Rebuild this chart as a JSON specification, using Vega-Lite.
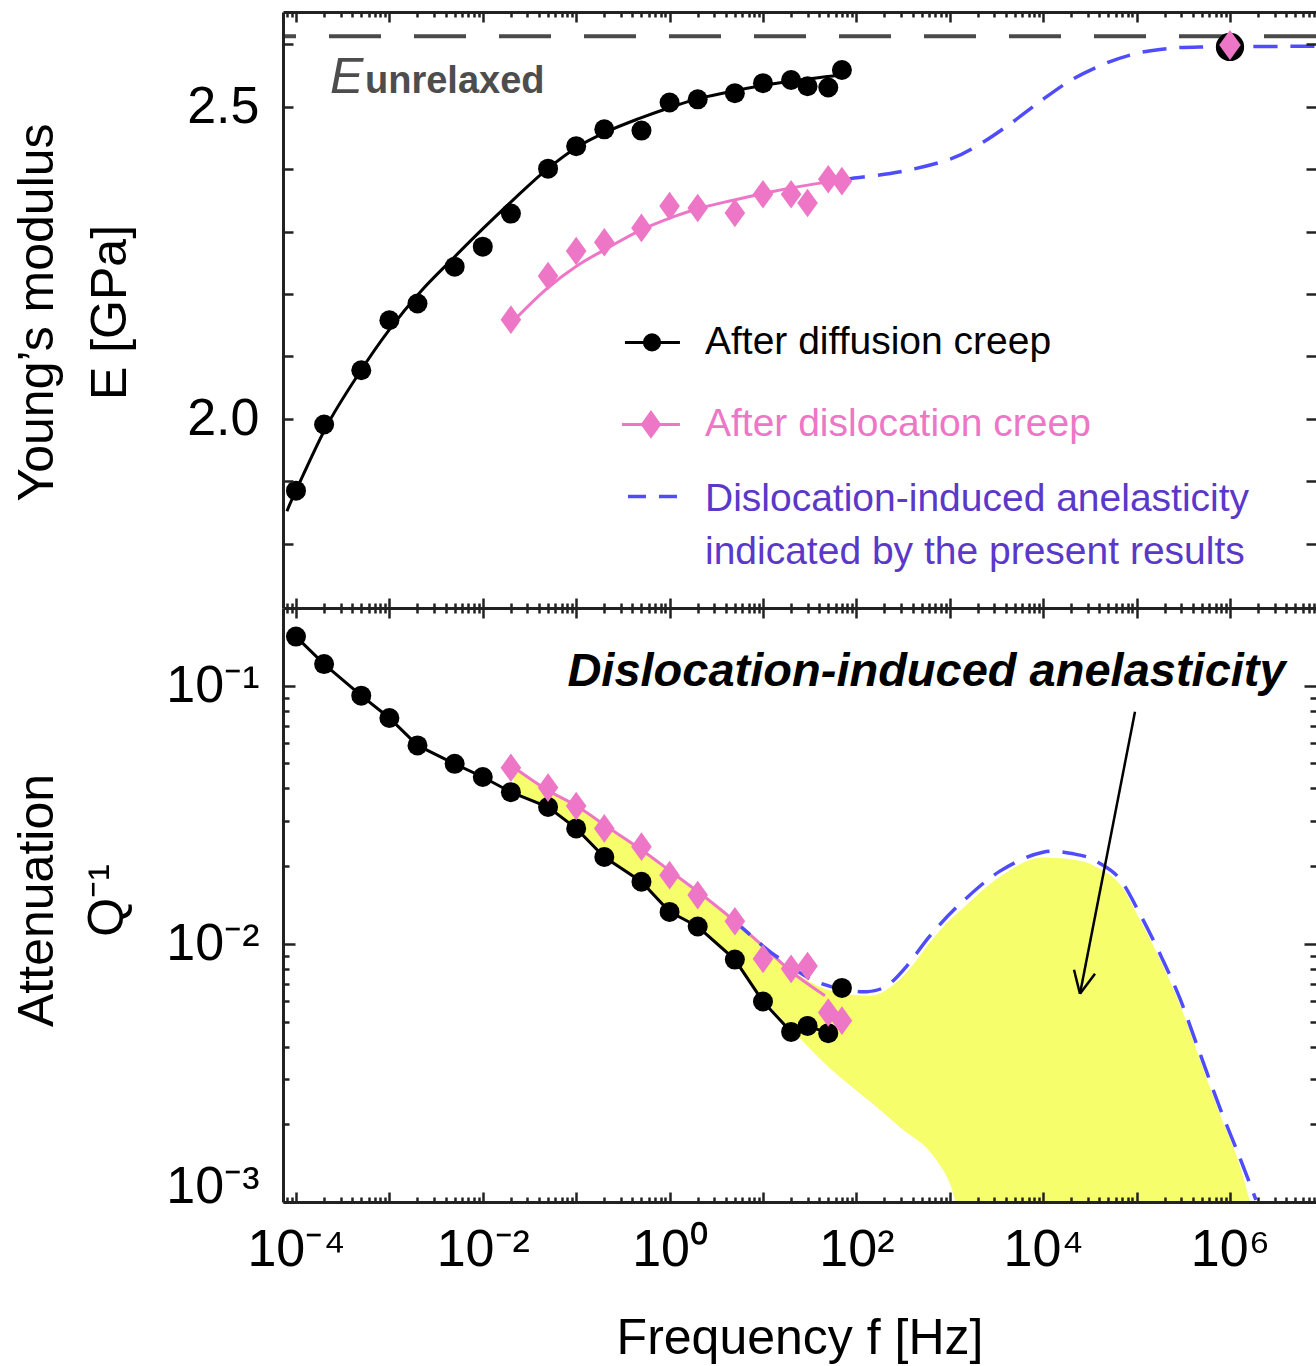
{
"$schema": "https://vega.github.io/schema/vega-lite/v6.json",
"width": 1033, "height": 1190,
"autosize": {"type": "none"},
"padding": {"left": 283, "top": 12, "right": 0, "bottom": 164},
"background": "white",
"config": {"view": {"stroke": null}, "font": "Liberation Sans",
  "axis": {"grid": false, "domainColor": "#222222", "domainWidth": 3, "tickColor": "#222222", "tickWidth": 2.5, "labelColor": "#000000", "titleColor": "#000000", "labelFont": "Liberation Sans", "titleFont": "Liberation Sans", "titleFontWeight": "normal", "labelFontSize": 52, "titleFontSize": 50, "labelFlush": false, "labelOverlap": false}},
"datasets": {
 "bE": [{"f":0.0001,"E":1.885},{"f":0.0002,"E":1.991},{"f":0.0005,"E":2.078},{"f":0.001,"E":2.158},{"f":0.002,"E":2.185},{"f":0.005,"E":2.244},{"f":0.01,"E":2.276},{"f":0.02,"E":2.329},{"f":0.05,"E":2.401},{"f":0.1,"E":2.437},{"f":0.2,"E":2.464},{"f":0.5,"E":2.462},{"f":1,"E":2.507},{"f":2,"E":2.512},{"f":5,"E":2.522},{"f":10,"E":2.538},{"f":20,"E":2.543},{"f":30,"E":2.533},{"f":50,"E":2.531},{"f":70,"E":2.559}],
 "pE": [{"f":0.02,"E":2.159},{"f":0.05,"E":2.229},{"f":0.1,"E":2.269},{"f":0.2,"E":2.283},{"f":0.5,"E":2.306},{"f":1,"E":2.341},{"f":2,"E":2.338},{"f":5,"E":2.330},{"f":10,"E":2.360},{"f":20,"E":2.360},{"f":30,"E":2.346},{"f":50,"E":2.384},{"f":70,"E":2.381}],
 "bEfit": [{"f":0.00008,"E":1.852},{"f":0.0001,"E":1.885},{"f":0.000214,"E":1.989},{"f":0.000468,"E":2.072},{"f":0.001,"E":2.143},{"f":0.00219,"E":2.205},{"f":0.00479,"E":2.257},{"f":0.01023,"E":2.306},{"f":0.02188,"E":2.353},{"f":0.04786,"E":2.399},{"f":0.1012,"E":2.435},{"f":0.2188,"E":2.461},{"f":0.4677,"E":2.481},{"f":1.109,"E":2.501},{"f":2.138,"E":2.514},{"f":4.677,"E":2.525},{"f":10.72,"E":2.535},{"f":21.38,"E":2.542},{"f":69.18,"E":2.551}],
 "pEfit": [{"f":0.02188,"E":2.159},{"f":0.04786,"E":2.208},{"f":0.1012,"E":2.245},{"f":0.2188,"E":2.274},{"f":0.4677,"E":2.301},{"f":1.109,"E":2.324},{"f":2.138,"E":2.338},{"f":4.677,"E":2.350},{"f":10.72,"E":2.362},{"f":21.38,"E":2.371},{"f":69.18,"E":2.383}],
 "blueE": [{"f":69.18,"E":2.383},{"f":85.1,"E":2.385},{"f":295.1,"E":2.396},{"f":1000,"E":2.416},{"f":2089,"E":2.440},{"f":4365,"E":2.472},{"f":9333,"E":2.509},{"f":19498,"E":2.542},{"f":40738,"E":2.566},{"f":85114,"E":2.583},{"f":177828,"E":2.592},{"f":478630,"E":2.596},{"f":8317638,"E":2.597}],
 "hf": [{"f":1000000,"E":2.596,"Ep":2.599}],
 "Eu": [{"E":2.613}],
 "legBlack": [{"f":0.3327,"E":2.1226},{"f":1.291,"E":2.1226}],
 "legPink": [{"f":0.309,"E":1.9912},{"f":1.291,"E":1.9912}],
 "legBlue": [{"f":0.3586,"E":1.8758},{"f":1.2,"E":1.8758}],
 "legCirc": [{"f":0.6486,"E":2.1226}],
 "legDia": [{"f":0.632,"E":1.9912}],
 "legText": [{"f":2.393,"E":2.1226,"t":"After diffusion creep","c":"#000000"},{"f":2.393,"E":1.9912,"t":"After dislocation creep","c":"#EE76C6"},{"f":2.393,"E":1.871,"t":"Dislocation-induced anelasticity","c":"#5A38C9"},{"f":2.393,"E":1.786,"t":"indicated by the present results","c":"#5A38C9"}],
 "labE": [{"f":0.0002312,"E":2.523,"t":"E"}],
 "labU": [{"f":0.000548,"E":2.5217,"t":"unrelaxed"}],
 "bQ": [{"f":0.0001,"Q":0.155},{"f":0.0002,"Q":0.1213},{"f":0.0005,"Q":0.0915},{"f":0.001,"Q":0.0750},{"f":0.002,"Q":0.0587},{"f":0.005,"Q":0.0498},{"f":0.01,"Q":0.0443},{"f":0.02,"Q":0.0387},{"f":0.05,"Q":0.0339},{"f":0.1,"Q":0.0280},{"f":0.2,"Q":0.0217},{"f":0.5,"Q":0.0174},{"f":1,"Q":0.0133},{"f":2,"Q":0.01167},{"f":5,"Q":0.00869},{"f":10,"Q":0.00598},{"f":20,"Q":0.00456},{"f":30,"Q":0.00481},{"f":50,"Q":0.00451},{"f":70,"Q":0.00675}],
 "pQ": [{"f":0.02,"Q":0.0481},{"f":0.05,"Q":0.0403},{"f":0.1,"Q":0.0342},{"f":0.2,"Q":0.0280},{"f":0.5,"Q":0.0238},{"f":1,"Q":0.01846},{"f":2,"Q":0.01545},{"f":5,"Q":0.01224},{"f":10,"Q":0.00875},{"f":20,"Q":0.0080},{"f":30,"Q":0.0082},{"f":50,"Q":0.00542},{"f":70,"Q":0.00504}],
 "pQfit": [{"f":0.02158,"Q":0.0482},{"f":0.04753,"Q":0.0397},{"f":0.1021,"Q":0.0341},{"f":0.2188,"Q":0.0283},{"f":0.4699,"Q":0.0235},{"f":1.086,"Q":0.0188},{"f":2.168,"Q":0.0156},{"f":4.656,"Q":0.0125},{"f":10.77,"Q":0.00957},{"f":21.48,"Q":0.00766},{"f":46.13,"Q":0.0063}],
 "blueQ": [{"f":4.656,"Q":0.0125},{"f":10.72,"Q":0.0096},{"f":15.21,"Q":0.00875},{"f":31.84,"Q":0.00733},{"f":66.68,"Q":0.0067},{"f":129.7,"Q":0.00653},{"f":212.8,"Q":0.00689},{"f":348.3,"Q":0.00822},{"f":613.8,"Q":0.01074},{"f":1285,"Q":0.01426},{"f":3443,"Q":0.01913},{"f":9954,"Q":0.02265},{"f":24774,"Q":0.02206},{"f":40551,"Q":0.0205},{"f":66374,"Q":0.01781},{"f":108643,"Q":0.01306},{"f":177828,"Q":0.00915},{"f":291743,"Q":0.00613},{"f":477529,"Q":0.00376},{"f":781628,"Q":0.00231},{"f":1279381,"Q":0.00148},{"f":1896706,"Q":0.00102}],
 "yellow": [{"f":0.02158,"t":0.0482,"b":0.0387},{"f":0.04753,"t":0.0397,"b":0.0339},{"f":0.1021,"t":0.0341,"b":0.0280},{"f":0.2188,"t":0.0283,"b":0.0217},{"f":0.4699,"t":0.0235,"b":0.0174},{"f":1.086,"t":0.0188,"b":0.0133},{"f":2.168,"t":0.0156,"b":0.01167},{"f":4.656,"t":0.0125,"b":0.00869},{"f":10.77,"t":0.00957,"b":0.00598},{"f":21.48,"t":0.0078,"b":0.00456},{"f":52.1,"t":0.0066,"b":0.0033},{"f":140,"t":0.0063,"b":0.00245},{"f":293,"t":0.0073,"b":0.00195},{"f":695,"t":0.0107,"b":0.00148},{"f":1005,"t":0.0124,"b":0.00118},{"f":1194,"t":0.0131,"b":0.001},{"f":3443,"t":0.0182,"b":0.001},{"f":9954,"t":0.0216,"b":0.001},{"f":24774,"t":0.021,"b":0.001},{"f":40551,"t":0.0195,"b":0.001},{"f":66374,"t":0.017,"b":0.001},{"f":108643,"t":0.0124,"b":0.001},{"f":177828,"t":0.0087,"b":0.001},{"f":291743,"t":0.0058,"b":0.001},{"f":477529,"t":0.00355,"b":0.001},{"f":781628,"t":0.00218,"b":0.001},{"f":1279381,"t":0.00138,"b":0.001},{"f":1637000,"t":0.001,"b":0.001}],
 "annot": [{"f":563.6,"Q":0.1132,"t":"Dislocation-induced anelasticity"}],
 "arrow": [{"f":96161,"Q":0.0793,"s":"a","o":0},{"f":24774,"Q":0.00641,"s":"a","o":1},{"f":35892,"Q":0.00766,"s":"b","o":0},{"f":24774,"Q":0.00641,"s":"b","o":1},{"f":21380,"Q":0.00794,"s":"c","o":0},{"f":24774,"Q":0.00641,"s":"c","o":1}]
},
"resolve": {"scale": {"y": "independent"}, "axis": {"x": "independent", "y": "independent"}},
"layer": [
 {"data": {"name": "yellow"}, "mark": {"type": "area", "color": "#F6FE6C", "interpolate": "monotone"},
  "encoding": {
   "x": {"field": "f", "type": "quantitative", "scale": {"type": "log", "domain": [7.261e-5, 8.337e6], "nice": false},
     "axis": {"orient": "bottom", "values": [0.0001, 0.01, 1, 100, 10000, 1000000], "ticks": false, "domain": true, "labelExpr": "datum.value < 0.001 ? '10\u207b\u2074' : datum.value < 0.1 ? '10\u207b\u00b2' : datum.value < 10 ? '10\u2070' : datum.value < 1000 ? '10\u00b2' : datum.value < 100000 ? '10\u2074' : '10\u2076'", "labelPadding": 22, "title": "Frequency f [Hz]", "titleY": 151, "titleBaseline": "alphabetic", "zindex": 1}},
   "y": {"field": "t", "type": "quantitative", "scale": {"type": "log", "domain": [0.001, 0.2], "range": [1190, 596], "nice": false},
     "axis": {"orient": "left", "values": [0.001, 0.01, 0.1], "ticks": false, "domain": true, "labelExpr": "datum.value < 0.005 ? '10\u207b\u00b3' : datum.value < 0.05 ? '10\u207b\u00b2' : '10\u207b\u00b9'", "labelPadding": 24, "labelBaseline": {"condition": {"test": "datum.value < 0.002", "value": "alphabetic"}, "value": "middle"}, "title": ["Attenuation", "Q\u207b\u00b9"], "titleAngle": -90, "titleX": -231, "titleY": 888, "titleAlign": "center", "titleBaseline": "alphabetic", "titleLineHeight": 70, "zindex": 1}},
   "y2": {"field": "b"}
  }},
 {"data": {"name": "Eu"}, "mark": {"type": "rule", "color": "#4a4a4a", "strokeWidth": 4, "strokeDash": [52, 33]},
  "encoding": {
   "y": {"field": "E", "type": "quantitative", "scale": {"type": "linear", "domain": [1.697, 2.652], "range": [596, 0], "zero": false, "nice": false},
     "axis": {"orient": "left", "values": [2.0, 2.5], "format": ".1f", "ticks": false, "domain": true, "labelPadding": 24, "title": ["Young\u2019s modulus", "E [GPa]"], "titleAngle": -90, "titleX": -231, "titleY": 300, "titleAlign": "center", "titleBaseline": "alphabetic", "titleLineHeight": 73, "zindex": 1}}
  }},
 {"data": {"name": "bEfit"}, "mark": {"type": "line", "color": "#000000", "strokeWidth": 3, "interpolate": "cardinal"},
  "encoding": {
   "x": {"field": "f", "type": "quantitative", "scale": {"type": "log", "domain": [7.261e-5, 8.337e6], "nice": false},
     "axis": {"orient": "bottom", "offset": -1190, "values": [0.0001,0.001,0.01,0.1,1,10,100,1000,10000,100000,1000000], "labels": false, "domain": true, "tickSize": 10, "title": null, "zindex": 1}},
   "y": {"field": "E", "type": "quantitative", "scale": {"type": "linear", "domain": [1.697, 2.652], "range": [596, 0], "zero": false, "nice": false},
     "axis": {"orient": "right", "offset": -1033, "values": [1.8,1.9,2.0,2.1,2.2,2.3,2.4,2.5,2.6], "labels": false, "domain": false, "tickSize": 10, "title": null, "zindex": 1}}
  }},
 {"data": {"name": "pEfit"}, "mark": {"type": "line", "color": "#EE76C6", "strokeWidth": 3, "interpolate": "cardinal"},
  "encoding": {
   "x": {"field": "f", "type": "quantitative", "scale": {"type": "log", "domain": [7.261e-5, 8.337e6], "nice": false},
     "axis": {"orient": "bottom", "offset": -1190, "values": [0.00008,0.00009,0.0002,0.0003,0.0004,0.0005,0.0006,0.0007,0.0008,0.0009,0.002,0.003,0.004,0.005,0.006,0.007,0.008,0.009,0.02,0.03,0.04,0.05,0.06,0.07,0.08,0.09,0.2,0.3,0.4,0.5,0.6,0.7,0.8,0.9,2,3,4,5,6,7,8,9,20,30,40,50,60,70,80,90,200,300,400,500,600,700,800,900,2000,3000,4000,5000,6000,7000,8000,9000,20000,30000,40000,50000,60000,70000,80000,90000,200000,300000,400000,500000,600000,700000,800000,900000,2000000,3000000,4000000,5000000,6000000,7000000,8000000], "labels": false, "domain": false, "tickSize": 5, "title": null, "zindex": 1}},
   "y": {"field": "E", "type": "quantitative", "scale": {"type": "linear", "domain": [1.697, 2.652], "range": [596, 0], "zero": false, "nice": false},
     "axis": {"orient": "left", "offset": -1033, "values": [1.8,1.9,2.0,2.1,2.2,2.3,2.4,2.5,2.6], "labels": false, "domain": false, "tickSize": 10, "title": null, "zindex": 1}}
  }},
 {"data": {"name": "blueE"}, "mark": {"type": "line", "color": "#4F4DFB", "strokeWidth": 3.5, "strokeDash": [24, 13], "interpolate": "cardinal"},
  "encoding": {
   "x": {"field": "f", "type": "quantitative", "scale": {"type": "log", "domain": [7.261e-5, 8.337e6], "nice": false}, "axis": null},
   "y": {"field": "E", "type": "quantitative", "scale": {"type": "linear", "domain": [1.697, 2.652], "range": [596, 0], "zero": false, "nice": false}, "axis": null}
  }},
 {"data": {"name": "bE"}, "mark": {"type": "point", "shape": "circle", "filled": true, "color": "#000000", "opacity": 1, "size": 400},
  "encoding": {
   "x": {"field": "f", "type": "quantitative", "scale": {"type": "log", "domain": [7.261e-5, 8.337e6], "nice": false}, "axis": null},
   "y": {"field": "E", "type": "quantitative", "scale": {"type": "linear", "domain": [1.697, 2.652], "range": [596, 0], "zero": false, "nice": false}, "axis": null}
  }},
 {"data": {"name": "pE"}, "mark": {"type": "point", "shape": "M0,-1L0.72,0L0,1L-0.72,0Z", "filled": true, "color": "#EE76C6", "opacity": 1, "size": 820},
  "encoding": {
   "x": {"field": "f", "type": "quantitative", "scale": {"type": "log", "domain": [7.261e-5, 8.337e6], "nice": false}, "axis": null},
   "y": {"field": "E", "type": "quantitative", "scale": {"type": "linear", "domain": [1.697, 2.652], "range": [596, 0], "zero": false, "nice": false}, "axis": null}
  }},
 {"data": {"name": "hf"}, "mark": {"type": "point", "shape": "circle", "filled": true, "color": "#000000", "opacity": 1, "size": 800},
  "encoding": {
   "x": {"field": "f", "type": "quantitative", "scale": {"type": "log", "domain": [7.261e-5, 8.337e6], "nice": false}, "axis": null},
   "y": {"field": "E", "type": "quantitative", "scale": {"type": "linear", "domain": [1.697, 2.652], "range": [596, 0], "zero": false, "nice": false}, "axis": null}
  }},
 {"data": {"name": "hf"}, "mark": {"type": "point", "shape": "M0,-1L0.72,0L0,1L-0.72,0Z", "filled": true, "color": "#EE76C6", "opacity": 1, "size": 900},
  "encoding": {
   "x": {"field": "f", "type": "quantitative", "scale": {"type": "log", "domain": [7.261e-5, 8.337e6], "nice": false}, "axis": null},
   "y": {"field": "Ep", "type": "quantitative", "scale": {"type": "linear", "domain": [1.697, 2.652], "range": [596, 0], "zero": false, "nice": false}, "axis": null}
  }},
 {"data": {"name": "legBlack"}, "mark": {"type": "line", "color": "#000000", "strokeWidth": 3},
  "encoding": {
   "x": {"field": "f", "type": "quantitative", "scale": {"type": "log", "domain": [7.261e-5, 8.337e6], "nice": false}, "axis": null},
   "y": {"field": "E", "type": "quantitative", "scale": {"type": "linear", "domain": [1.697, 2.652], "range": [596, 0], "zero": false, "nice": false}, "axis": null}
  }},
 {"data": {"name": "legPink"}, "mark": {"type": "line", "color": "#EE76C6", "strokeWidth": 3},
  "encoding": {
   "x": {"field": "f", "type": "quantitative", "scale": {"type": "log", "domain": [7.261e-5, 8.337e6], "nice": false}, "axis": null},
   "y": {"field": "E", "type": "quantitative", "scale": {"type": "linear", "domain": [1.697, 2.652], "range": [596, 0], "zero": false, "nice": false}, "axis": null}
  }},
 {"data": {"name": "legBlue"}, "mark": {"type": "line", "color": "#4F4DFB", "strokeWidth": 3.5, "strokeDash": [18, 13]},
  "encoding": {
   "x": {"field": "f", "type": "quantitative", "scale": {"type": "log", "domain": [7.261e-5, 8.337e6], "nice": false}, "axis": null},
   "y": {"field": "E", "type": "quantitative", "scale": {"type": "linear", "domain": [1.697, 2.652], "range": [596, 0], "zero": false, "nice": false}, "axis": null}
  }},
 {"data": {"name": "legCirc"}, "mark": {"type": "point", "shape": "circle", "filled": true, "color": "#000000", "opacity": 1, "size": 330},
  "encoding": {
   "x": {"field": "f", "type": "quantitative", "scale": {"type": "log", "domain": [7.261e-5, 8.337e6], "nice": false}, "axis": null},
   "y": {"field": "E", "type": "quantitative", "scale": {"type": "linear", "domain": [1.697, 2.652], "range": [596, 0], "zero": false, "nice": false}, "axis": null}
  }},
 {"data": {"name": "legDia"}, "mark": {"type": "point", "shape": "M0,-1L0.72,0L0,1L-0.72,0Z", "filled": true, "color": "#EE76C6", "opacity": 1, "size": 820},
  "encoding": {
   "x": {"field": "f", "type": "quantitative", "scale": {"type": "log", "domain": [7.261e-5, 8.337e6], "nice": false}, "axis": null},
   "y": {"field": "E", "type": "quantitative", "scale": {"type": "linear", "domain": [1.697, 2.652], "range": [596, 0], "zero": false, "nice": false}, "axis": null}
  }},
 {"data": {"name": "legText"}, "mark": {"type": "text", "font": "Liberation Sans", "fontSize": 39, "align": "left", "baseline": "middle"},
  "encoding": {
   "x": {"field": "f", "type": "quantitative", "scale": {"type": "log", "domain": [7.261e-5, 8.337e6], "nice": false}, "axis": null},
   "y": {"field": "E", "type": "quantitative", "scale": {"type": "linear", "domain": [1.697, 2.652], "range": [596, 0], "zero": false, "nice": false}, "axis": null},
   "text": {"field": "t"},
   "color": {"field": "c", "type": "nominal", "scale": null}
  }},
 {"data": {"name": "labE"}, "mark": {"type": "text", "font": "Liberation Sans", "fontSize": 50, "fontStyle": "italic", "align": "left", "baseline": "alphabetic", "color": "#4d4d4d"},
  "encoding": {
   "x": {"field": "f", "type": "quantitative", "scale": {"type": "log", "domain": [7.261e-5, 8.337e6], "nice": false}, "axis": null},
   "y": {"field": "E", "type": "quantitative", "scale": {"type": "linear", "domain": [1.697, 2.652], "range": [596, 0], "zero": false, "nice": false}, "axis": null},
   "text": {"field": "t"}
  }},
 {"data": {"name": "labU"}, "mark": {"type": "text", "font": "Liberation Sans", "fontSize": 38, "fontWeight": "bold", "align": "left", "baseline": "alphabetic", "color": "#4d4d4d"},
  "encoding": {
   "x": {"field": "f", "type": "quantitative", "scale": {"type": "log", "domain": [7.261e-5, 8.337e6], "nice": false}, "axis": null},
   "y": {"field": "E", "type": "quantitative", "scale": {"type": "linear", "domain": [1.697, 2.652], "range": [596, 0], "zero": false, "nice": false}, "axis": null},
   "text": {"field": "t"}
  }},
 {"data": {"name": "bQ"}, "transform": [{"filter": "datum.f < 60"}], "mark": {"type": "line", "color": "#000000", "strokeWidth": 3},
  "encoding": {
   "x": {"field": "f", "type": "quantitative", "scale": {"type": "log", "domain": [7.261e-5, 8.337e6], "nice": false},
     "axis": {"orient": "top", "offset": -1190, "values": [0.0001,0.001,0.01,0.1,1,10,100,1000,10000,100000,1000000], "labels": false, "domain": false, "tickSize": 10, "title": null, "zindex": 1}},
   "y": {"field": "Q", "type": "quantitative", "scale": {"type": "log", "domain": [0.001, 0.2], "range": [1190, 596], "nice": false},
     "axis": {"orient": "right", "offset": -1033, "values": [0.001, 0.01, 0.1], "labels": false, "domain": false, "tickSize": 12, "title": null, "zindex": 1}}
  }},
 {"data": {"name": "pQfit"}, "mark": {"type": "line", "color": "#EE76C6", "strokeWidth": 3, "interpolate": "cardinal"},
  "encoding": {
   "x": {"field": "f", "type": "quantitative", "scale": {"type": "log", "domain": [7.261e-5, 8.337e6], "nice": false},
     "axis": {"orient": "top", "offset": -1190, "values": [0.00008,0.00009,0.0002,0.0003,0.0004,0.0005,0.0006,0.0007,0.0008,0.0009,0.002,0.003,0.004,0.005,0.006,0.007,0.008,0.009,0.02,0.03,0.04,0.05,0.06,0.07,0.08,0.09,0.2,0.3,0.4,0.5,0.6,0.7,0.8,0.9,2,3,4,5,6,7,8,9,20,30,40,50,60,70,80,90,200,300,400,500,600,700,800,900,2000,3000,4000,5000,6000,7000,8000,9000,20000,30000,40000,50000,60000,70000,80000,90000,200000,300000,400000,500000,600000,700000,800000,900000,2000000,3000000,4000000,5000000,6000000,7000000,8000000], "labels": false, "domain": false, "tickSize": 5, "title": null, "zindex": 1}},
   "y": {"field": "Q", "type": "quantitative", "scale": {"type": "log", "domain": [0.001, 0.2], "range": [1190, 596], "nice": false},
     "axis": {"orient": "right", "offset": -1033, "values": [0.002,0.003,0.004,0.005,0.006,0.007,0.008,0.009,0.02,0.03,0.04,0.05,0.06,0.07,0.08,0.09], "labels": false, "domain": false, "tickSize": 6, "title": null, "zindex": 1}}
  }},
 {"data": {"name": "blueQ"}, "mark": {"type": "line", "color": "#4F4DFB", "strokeWidth": 3.5, "strokeDash": [24, 13], "interpolate": "cardinal"},
  "encoding": {
   "x": {"field": "f", "type": "quantitative", "scale": {"type": "log", "domain": [7.261e-5, 8.337e6], "nice": false},
     "axis": {"orient": "bottom", "offset": -594, "values": [0.0001,0.001,0.01,0.1,1,10,100,1000,10000,100000,1000000], "labels": false, "domain": true, "tickSize": 10, "title": null, "zindex": 1}},
   "y": {"field": "Q", "type": "quantitative", "scale": {"type": "log", "domain": [0.001, 0.2], "range": [1190, 596], "nice": false},
     "axis": {"orient": "left", "offset": -1033, "values": [0.001, 0.01, 0.1], "labels": false, "domain": false, "tickSize": 12, "title": null, "zindex": 1}}
  }},
 {"data": {"name": "bQ"}, "mark": {"type": "point", "shape": "circle", "filled": true, "color": "#000000", "opacity": 1, "size": 400},
  "encoding": {
   "x": {"field": "f", "type": "quantitative", "scale": {"type": "log", "domain": [7.261e-5, 8.337e6], "nice": false},
     "axis": {"orient": "bottom", "offset": -594, "values": [0.00008,0.00009,0.0002,0.0003,0.0004,0.0005,0.0006,0.0007,0.0008,0.0009,0.002,0.003,0.004,0.005,0.006,0.007,0.008,0.009,0.02,0.03,0.04,0.05,0.06,0.07,0.08,0.09,0.2,0.3,0.4,0.5,0.6,0.7,0.8,0.9,2,3,4,5,6,7,8,9,20,30,40,50,60,70,80,90,200,300,400,500,600,700,800,900,2000,3000,4000,5000,6000,7000,8000,9000,20000,30000,40000,50000,60000,70000,80000,90000,200000,300000,400000,500000,600000,700000,800000,900000,2000000,3000000,4000000,5000000,6000000,7000000,8000000], "labels": false, "domain": false, "tickSize": 5, "title": null, "zindex": 1}},
   "y": {"field": "Q", "type": "quantitative", "scale": {"type": "log", "domain": [0.001, 0.2], "range": [1190, 596], "nice": false},
     "axis": {"orient": "left", "offset": -1033, "values": [0.002,0.003,0.004,0.005,0.006,0.007,0.008,0.009,0.02,0.03,0.04,0.05,0.06,0.07,0.08,0.09], "labels": false, "domain": false, "tickSize": 6, "title": null, "zindex": 1}}
  }},
 {"data": {"name": "pQ"}, "mark": {"type": "point", "shape": "M0,-1L0.72,0L0,1L-0.72,0Z", "filled": true, "color": "#EE76C6", "opacity": 1, "size": 820},
  "encoding": {
   "x": {"field": "f", "type": "quantitative", "scale": {"type": "log", "domain": [7.261e-5, 8.337e6], "nice": false},
     "axis": {"orient": "top", "offset": -596, "values": [0.0001,0.001,0.01,0.1,1,10,100,1000,10000,100000,1000000], "labels": false, "domain": false, "tickSize": 10, "title": null, "zindex": 1}},
   "y": {"field": "Q", "type": "quantitative", "scale": {"type": "log", "domain": [0.001, 0.2], "range": [1190, 596], "nice": false}, "axis": null}
  }},
 {"data": {"name": "annot"}, "mark": {"type": "text", "font": "Liberation Sans", "fontSize": 47, "fontWeight": "bold", "fontStyle": "italic", "align": "center", "baseline": "middle", "color": "#000000"},
  "encoding": {
   "x": {"field": "f", "type": "quantitative", "scale": {"type": "log", "domain": [7.261e-5, 8.337e6], "nice": false},
     "axis": {"orient": "top", "offset": -596, "values": [0.00008,0.00009,0.0002,0.0003,0.0004,0.0005,0.0006,0.0007,0.0008,0.0009,0.002,0.003,0.004,0.005,0.006,0.007,0.008,0.009,0.02,0.03,0.04,0.05,0.06,0.07,0.08,0.09,0.2,0.3,0.4,0.5,0.6,0.7,0.8,0.9,2,3,4,5,6,7,8,9,20,30,40,50,60,70,80,90,200,300,400,500,600,700,800,900,2000,3000,4000,5000,6000,7000,8000,9000,20000,30000,40000,50000,60000,70000,80000,90000,200000,300000,400000,500000,600000,700000,800000,900000,2000000,3000000,4000000,5000000,6000000,7000000,8000000], "labels": false, "domain": false, "tickSize": 5, "title": null, "zindex": 1}},
   "y": {"field": "Q", "type": "quantitative", "scale": {"type": "log", "domain": [0.001, 0.2], "range": [1190, 596], "nice": false}, "axis": null},
   "text": {"field": "t"}
  }},
 {"data": {"name": "arrow"}, "mark": {"type": "line", "color": "#000000", "strokeWidth": 2.5},
  "encoding": {
   "x": {"field": "f", "type": "quantitative", "scale": {"type": "log", "domain": [7.261e-5, 8.337e6], "nice": false}, "axis": null},
   "y": {"field": "Q", "type": "quantitative", "scale": {"type": "log", "domain": [0.001, 0.2], "range": [1190, 596], "nice": false}, "axis": null},
   "detail": {"field": "s", "type": "nominal"},
   "order": {"field": "o", "type": "quantitative"}
  }}
]
}
